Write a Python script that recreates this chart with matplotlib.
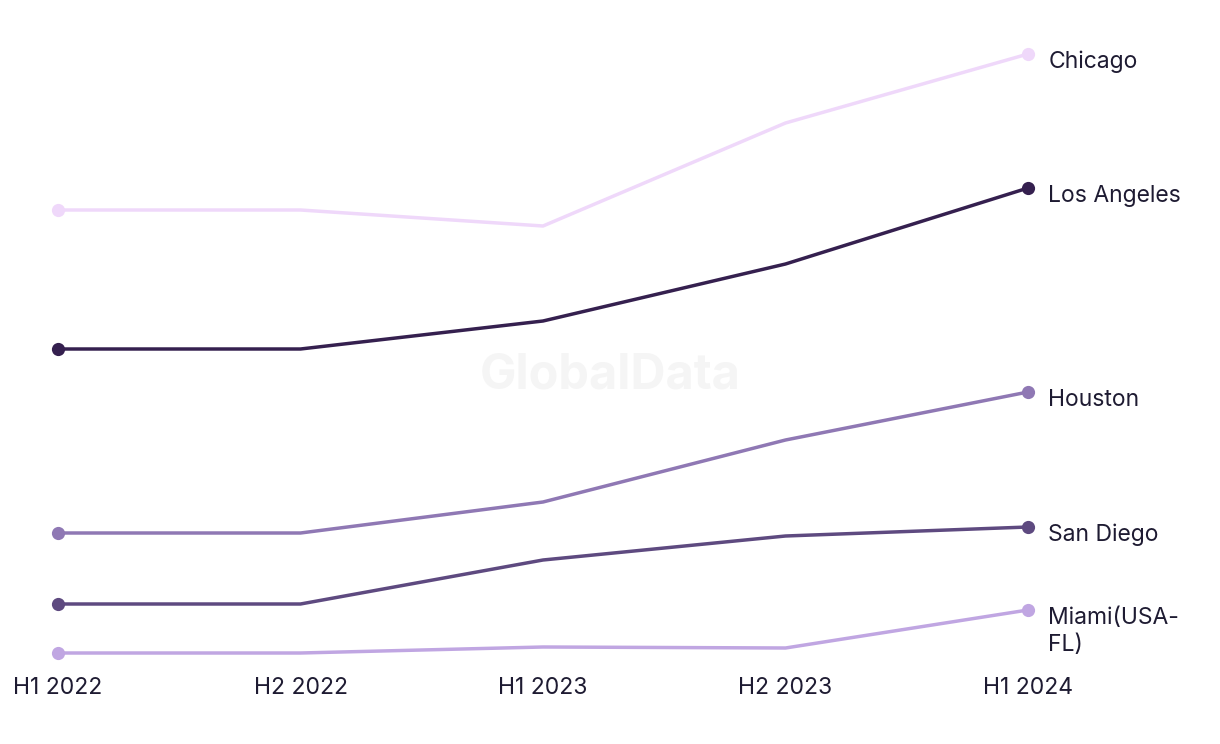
import matplotlib
matplotlib.use("Agg")
import matplotlib.pyplot as plt

plt.rcParams["font.family"] = ["Inter", "DejaVu Sans"]

periods = ["H1 2022", "H2 2022", "H1 2023", "H2 2023", "H1 2024"]
cities = ["Chicago", "Los Angeles", "Houston", "San Diego", "Miami(USA-\nFL)"]
chicago = [45.0, 45.0, 43.4, 53.7, 60.6]
los_angeles = [31.1, 31.1, 33.9, 39.6, 47.2]
houston = [12.7, 12.7, 15.8, 22.0, 26.8]
san_diego = [5.6, 5.6, 10.0, 12.4, 13.3]
miami = [0.7, 0.7, 1.3, 1.2, 5.0]
series = [chicago, los_angeles, houston, san_diego, miami]
colors = ["#EFD8FA", "#35204F", "#8F78B4", "#5E4A80", "#C0A6E2"]

text_color = "#1E1B32"

fig = plt.figure(figsize=(12.2, 7.44), dpi=100)
ax = fig.add_axes([58 / 1220, (744 - 665) / 744, 970 / 1220, 665 / 744])

x = list(range(len(periods)))
for name, vals, col in zip(cities, series, colors):
    ax.plot(x, vals, color=col, lw=2.5, solid_capstyle="round", zorder=3,
            clip_on=False)
    ax.plot([x[0], x[-1]], [vals[0], vals[-1]], "o", color=col, ms=9.5,
            mec="none", zorder=4, clip_on=False)
    # city label at the right end
    if "\n" in name:
        ax.annotate(name, (x[-1], vals[-1]), xytext=(14.5, 2),
                    textcoords="offset points", va="top", ha="left",
                    fontsize=16.5, color=text_color, linespacing=1.3,
                    annotation_clip=False)
    else:
        ax.annotate(name, (x[-1], vals[-1]), xytext=(14.5, -5.5),
                    textcoords="offset points", va="center", ha="left",
                    fontsize=16.5, color=text_color, annotation_clip=False)

# watermark
ax.text(0.569, 0.436, "GlobalData", transform=ax.transAxes, ha="center",
        va="center", fontsize=35, fontweight="bold", color="#F5F5F5",
        zorder=1)

ax.set_xlim(0, 4)
ax.set_ylim(-0.5, 66)
ax.set_xticks(x)
ax.set_xticklabels(periods, fontsize=16.5, color=text_color)
ax.tick_params(axis="x", length=0, pad=9)
ax.set_yticks([])
for s in ax.spines.values():
    s.set_visible(False)

fig.savefig("out.png", dpi=100)
